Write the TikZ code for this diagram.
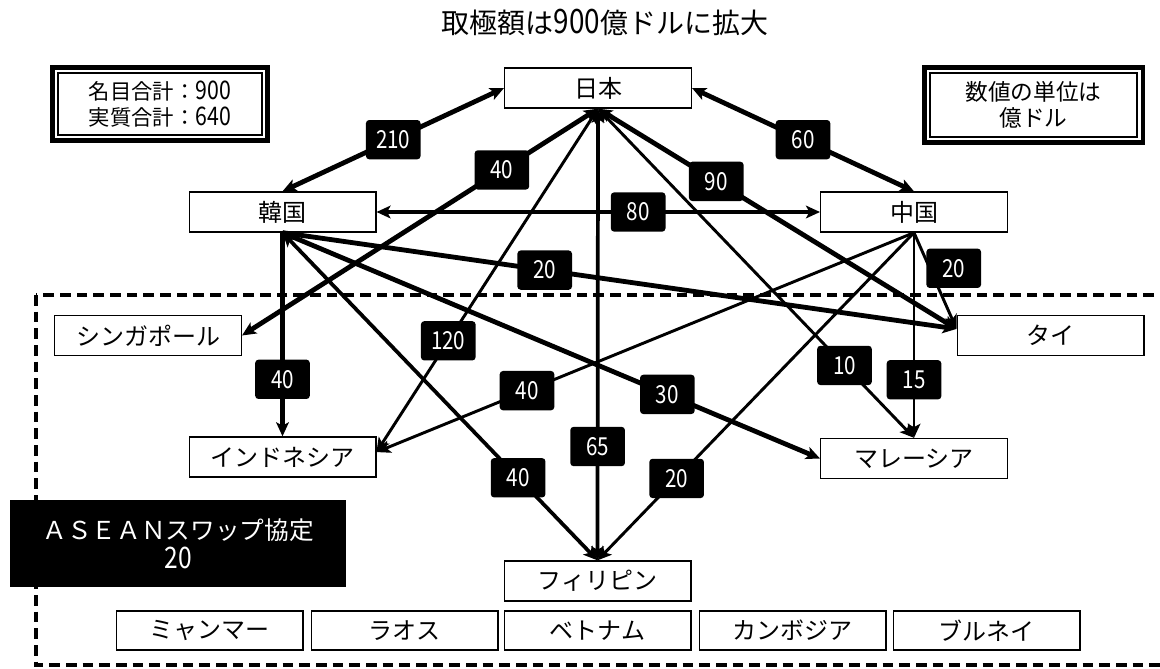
\documentclass[tikz,border=0pt]{standalone}
\usepackage{fontspec}
\setmainfont{Noto Sans CJK JP}
\newfontfamily\narrow[FakeStretch=0.83, Scale=1.2]{Noto Sans CJK JP}
\usetikzlibrary{arrows.meta}
\begin{document}
\begin{tikzpicture}[x=0.75pt,y=-0.75pt,
  cbox/.style={draw, line width=1pt, fill=white, minimum width=140pt, minimum height=30pt, inner sep=0pt, font=\fontsize{18}{20}\selectfont},
  lbl/.style={fill=black, text=white, rounded corners=2.5pt, minimum width=41pt, minimum height=29.5pt, inner sep=0pt, font=\narrow\fontsize{15.5}{18}\selectfont},
  thk/.style={line width=3.6pt},
  med/.style={line width=2.8pt},
  thn/.style={line width=2.2pt},
  arr/.style={-{Stealth[length=10.5pt,width=9.5pt,inset=2.5pt]}},
  darr/.style={{Stealth[length=10.5pt,width=9.5pt,inset=2.5pt]}-{Stealth[length=10.5pt,width=9.5pt,inset=2.5pt]}},
  outerframe/.style={draw, line width=3.4pt, inner sep=0pt},
  innerframe/.style={draw, line width=1.5pt, inner sep=0pt, align=center},
]
\useasboundingbox (0,0) rectangle (1160,668);
\clip (0,0) rectangle (1160,668);

% ASEAN region
\draw[line width=2.4pt, dash pattern=on 8pt off 4.5pt] (36,295) rectangle (1200,665);

% title
\node (title) [font=\fontsize{21}{24}\selectfont] at (605,22) {取極額は{\narrow 900}億ドルに拡大};

% legend boxes
\node (sumo) [outerframe, minimum width=161.6pt, minimum height=55.1pt] at (160,104) {};
\node (sum) [innerframe, minimum width=153pt, minimum height=46.5pt, font=\fontsize{16}{19}\selectfont] at (160,104) {名目合計：{\narrow 900}\\実質合計：{\narrow 640}};
\node (unito) [outerframe, minimum width=163.9pt, minimum height=56.6pt] at (1033.5,105) {};
\node (unit) [innerframe, minimum width=155.3pt, minimum height=48pt, font=\fontsize{17}{19}\selectfont] at (1033.5,105) {数値の単位は\\億ドル};

% country boxes
\node (J) [cbox] at (598,88) {日本};
\node (K) [cbox] at (282.5,212) {韓国};
\node (C) [cbox] at (914,212) {中国};
\node (S) [cbox] at (148,335.5) {シンガポール};
\node (T) [cbox] at (1050.5,335.5) {タイ};
\node (I) [cbox] at (282.5,457) {インドネシア};
\node (M) [cbox] at (914,458.5) {マレーシア};
\node (P) [cbox] at (597.5,581) {フィリピン};
\node (my) [cbox, minimum height=29.3pt] at (209.5,630.5) {ミャンマー};
\node (la) [cbox, minimum height=29.3pt] at (404.5,630.5) {ラオス};
\node (vn) [cbox, minimum height=29.3pt] at (597.5,630.5) {ベトナム};
\node (kh) [cbox, minimum height=29.3pt] at (792.5,630.5) {カンボジア};
\node (bn) [cbox, minimum height=29.3pt] at (986.5,630.5) {ブルネイ};

% ASEAN swap box
\node (asean) [fill=black, text=white, minimum width=252pt, minimum height=65.25pt, inner sep=0pt, align=center, font=\fontsize{18.5}{22}\selectfont] at (178,543.5) {ＡＳＥＡＮスワップ協定\\{\narrow 20}};

% connectors
\draw[thk,darr] (J.west) -- node[lbl,pos=0.5] {210} (K.north);
\draw[thk,darr] (J.east) -- node[lbl,pos=0.5] {60} (C.north);
\draw[thk,darr] (K.east) -- node[lbl,pos=0.59] {80} (C.west);
\draw[thk,darr] (J.south) -- node[lbl,pos=0.27] {40} (S.east);
\draw[thn,darr] (J.south) -- node[lbl,pos=0.676] {120} (I.3);
\draw[med,darr] (J.south) -- node[lbl,pos=0.748] {65} (P.north);
\draw[thk,darr] (J.south) -- node[lbl,pos=0.33] {90} (T.176);
\draw[thn,darr] (J.south) -- node[lbl,pos=0.78] {10} (M.north);
\draw[thk,arr] (K.south) -- node[lbl,pos=0.72] {40} (I.north);
\draw[med,darr] (K.south) -- node[lbl,pos=0.748] {40} (P.north);
\draw[thk,arr] (K.south) -- node[lbl,pos=0.716] {30} (M.west);
\draw[thk,arr] (K.south) -- node[lbl,pos=0.389] {20} (T.176);
\draw[thn,arr] (C.south) -- node[lbl,pos=0.72] {40} (I.3);
\draw[thn,arr] (C.south) -- node[lbl,pos=0.75] {20} (P.north);
\draw[thn,arr] (C.south) -- node[lbl,pos=0.717] {15} (M.north);
\draw[thn,arr] (C.south) -- node[lbl,pos=0.37,xshift=18] {20} (T.176);
\end{tikzpicture}
\end{document}
